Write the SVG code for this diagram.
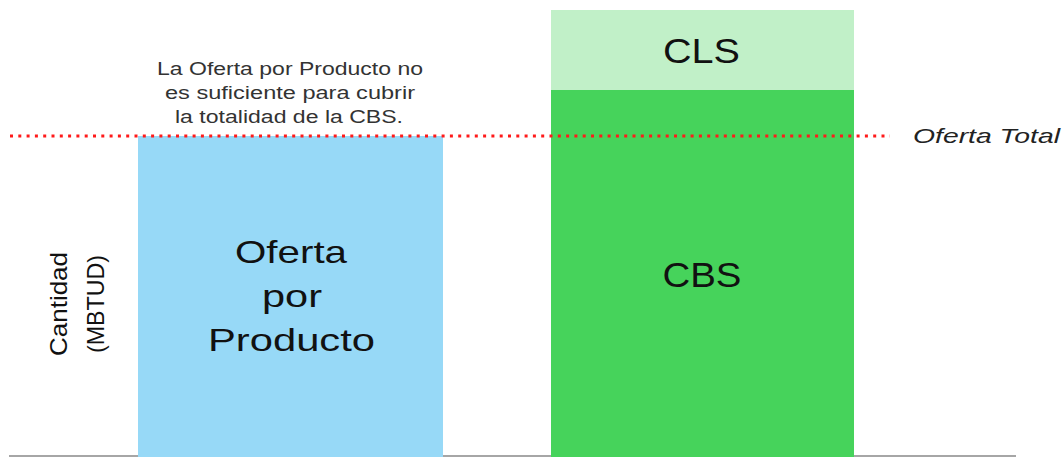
<svg xmlns="http://www.w3.org/2000/svg" width="1063" height="457" viewBox="0 0 1063 457">
<style>
.lbl{font-family:"Liberation Sans",Arial,sans-serif;fill:#111;text-anchor:middle}
.note{font-family:"Liberation Sans",Arial,sans-serif;font-size:17.5px;fill:#333;text-anchor:middle}
.axis{font-family:"Liberation Sans",Arial,sans-serif;font-size:24px;fill:#111;text-anchor:middle}
</style>
<rect width="1063" height="457" fill="#fff"/>
<line x1="9" y1="456" x2="1016" y2="456" stroke="#a6a6a6" stroke-width="2"/>
<g id="oferta-producto">
<rect x="138" y="136" width="305" height="321" fill="#97d9f7"/>
<text class="lbl" font-size="32" x="291" y="263" textLength="112" lengthAdjust="spacingAndGlyphs">Oferta</text>
<text class="lbl" font-size="32" x="292" y="307" textLength="60" lengthAdjust="spacingAndGlyphs">por</text>
<text class="lbl" font-size="32" x="291.5" y="351" textLength="167" lengthAdjust="spacingAndGlyphs">Producto</text>
</g>
<g id="cbs">
<rect x="551" y="90" width="303" height="367" fill="#46d35b"/>
<text class="lbl" font-size="35" x="702" y="287" textLength="79" lengthAdjust="spacingAndGlyphs">CBS</text>
</g>
<g id="cls">
<rect x="551" y="10" width="303" height="80" fill="#c1f0c8"/>
<text class="lbl" font-size="35" x="701.5" y="63" textLength="77" lengthAdjust="spacingAndGlyphs">CLS</text>
</g>
<g id="nota">
<text class="note" x="290" y="75" textLength="266" lengthAdjust="spacingAndGlyphs">La Oferta por Producto no</text>
<text class="note" x="290" y="99" textLength="250" lengthAdjust="spacingAndGlyphs">es suficiente para cubrir</text>
<text class="note" x="289" y="123" textLength="228" lengthAdjust="spacingAndGlyphs">la totalidad de la CBS.</text>
</g>
<g id="connectors">
<line x1="10" y1="136" x2="890" y2="136" stroke="#ff1a1a" stroke-width="3" stroke-dasharray="3 5.3"/>
</g>
<g id="oferta-total">
<text x="913" y="143" font-family="Liberation Sans,Arial,sans-serif" font-size="21" font-style="italic" fill="#222" textLength="147" lengthAdjust="spacingAndGlyphs">Oferta Total</text>
</g>
<g id="eje">
<text class="axis" transform="translate(67 304) rotate(-90)" textLength="104" lengthAdjust="spacingAndGlyphs">Cantidad</text>
<text class="axis" transform="translate(104 304) rotate(-90)" textLength="98" lengthAdjust="spacingAndGlyphs">(MBTUD)</text>
</g>
</svg>
